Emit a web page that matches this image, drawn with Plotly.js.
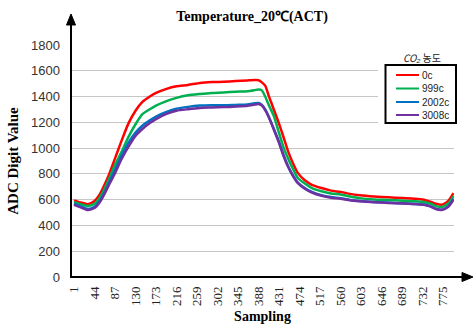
<!DOCTYPE html>
<html>
<head>
<meta charset="utf-8">
<script src="https://cdn.plot.ly/plotly-3.0.1.min.js"></script>
<style>html,body{margin:0;padding:0;background:#fff;}#chart{width:473px;height:333px;}</style>
</head>
<body>
<div id="chart"></div>
<script>
// ---- data ----
var samples = [1, 15, 30, 44, 55, 65, 75, 87, 100, 115, 130, 145, 160, 173, 195, 216, 240, 265, 290, 315, 340, 365, 380, 388, 395, 402, 410, 420, 430, 440, 450, 460, 470, 485, 500, 520, 540, 560, 580, 600, 630, 660, 690, 715, 735, 748, 760, 772, 786, 797];
var red0c = [595, 578, 565, 590, 640, 715, 800, 920, 1050, 1190, 1290, 1360, 1400, 1428, 1460, 1480, 1490, 1505, 1512, 1515, 1520, 1525, 1528, 1527, 1510, 1485, 1400, 1300, 1200, 1090, 975, 885, 810, 750, 715, 690, 670, 660, 645, 635, 625, 618, 612, 608, 600, 585, 568, 560, 590, 650];
var green999c = [580, 565, 550, 568, 615, 685, 765, 870, 965, 1085, 1185, 1265, 1302, 1330, 1365, 1390, 1410, 1420, 1428, 1432, 1438, 1442, 1450, 1455, 1448, 1400, 1330, 1250, 1130, 1010, 920, 840, 770, 725, 690, 665, 648, 640, 625, 612, 602, 598, 592, 588, 582, 570, 550, 542, 570, 628];
var blue2002c = [570, 548, 528, 545, 590, 655, 735, 830, 935, 1040, 1120, 1175, 1215, 1245, 1280, 1305, 1320, 1330, 1333, 1332, 1335, 1338, 1348, 1350, 1335, 1300, 1240, 1150, 1060, 950, 860, 790, 735, 690, 660, 635, 620, 612, 598, 590, 582, 578, 572, 568, 562, 550, 530, 522, 548, 605];
var purple3008c = [560, 540, 520, 535, 580, 645, 720, 805, 910, 1010, 1095, 1150, 1195, 1225, 1265, 1290, 1302, 1312, 1315, 1318, 1322, 1328, 1338, 1342, 1330, 1295, 1235, 1145, 1050, 945, 855, 785, 730, 685, 655, 630, 615, 608, 595, 588, 580, 575, 570, 565, 560, 548, 528, 520, 545, 600];
var seriesNames = ['0c', '999c', '2002c', '3008c'];
var seriesColors = ['#ff0000', '#00b050', '#0070c0', '#7030a0'];
var xTicks = [1, 44, 87, 130, 173, 216, 259, 302, 345, 388, 431, 474, 517, 560, 603, 646, 689, 732, 775];
var yTicks = [0, 200, 400, 600, 800, 1000, 1200, 1400, 1600, 1800];

var seriesValues = [red0c, green999c, blue2002c, purple3008c];

// plot area in pixels
var L = 71, R = 454, T = 45, B = 277;
function px(x) { return (x - L) / (R - L); }
function py(y) { return (B - y) / (B - T); }

var traces = seriesValues.map(function (vals, i) {
  return {
    x: samples, y: vals, type: 'scatter', mode: 'lines', name: seriesNames[i],
    line: { color: seriesColors[i], width: 2.5, shape: 'spline', smoothing: 0.6 },
    hoverinfo: 'x+y+name'
  };
});

function pt(x, y) { return px(x) + ',' + py(y); }

var shapes = [
  // white area behind the legend
  { type: 'rect', xref: 'paper', yref: 'paper', x0: px(378), x1: px(459), y0: py(126), y1: py(48),
    fillcolor: '#ffffff', line: { width: 0 }, layer: 'above' },
  // legend border
  { type: 'rect', xref: 'paper', yref: 'paper', x0: px(385.5), x1: px(456), y0: py(123), y1: py(65),
    fillcolor: 'rgba(0,0,0,0)', line: { color: '#000000', width: 2 }, layer: 'above' },
  // axis lines
  { type: 'line', xref: 'paper', yref: 'paper', x0: px(71), x1: px(71), y0: py(278), y1: py(22),
    line: { color: '#000000', width: 2 }, layer: 'above' },
  { type: 'line', xref: 'paper', yref: 'paper', x0: px(70), x1: px(466), y0: py(277), y1: py(277),
    line: { color: '#000000', width: 2 }, layer: 'above' },
  // arrowheads
  { type: 'path', xref: 'paper', yref: 'paper', path: 'M' + pt(71, 14) + ' L' + pt(66.5, 25) + ' L' + pt(75.5, 25) + ' Z',
    fillcolor: '#000000', line: { color: '#000000', width: 1 }, layer: 'above' },
  { type: 'path', xref: 'paper', yref: 'paper', path: 'M' + pt(473, 277) + ' L' + pt(462, 272.5) + ' L' + pt(462, 281.5) + ' Z',
    fillcolor: '#000000', line: { color: '#000000', width: 1 }, layer: 'above' }
];
var annotations = [
  // legend title
  { xref: 'paper', yref: 'paper', x: px(421.5), y: py(57), text: '<i>CO₂</i> 농도', showarrow: false,
    font: { family: 'Noto Sans CJK KR, Liberation Sans, sans-serif', size: 10, color: '#222222' },
    xanchor: 'center', yanchor: 'middle' }
];
var itemY = [75, 88.5, 102, 115];
seriesNames.forEach(function (n, i) {
  shapes.push({ type: 'line', xref: 'paper', yref: 'paper', x0: px(396), x1: px(419), y0: py(itemY[i]), y1: py(itemY[i]),
    line: { color: seriesColors[i], width: 2 }, layer: 'above' });
  annotations.push({ xref: 'paper', yref: 'paper', x: px(419.5), y: py(itemY[i]), text: n, showarrow: false,
    xanchor: 'left', yanchor: 'middle', font: { family: 'Liberation Sans, Arial, sans-serif', size: 10, color: '#222222' } });
});

var layout = {
  width: 473, height: 333,
  margin: { l: L, r: 473 - R, t: T, b: 333 - B, pad: 0 },
  paper_bgcolor: '#ffffff', plot_bgcolor: '#ffffff',
  showlegend: false,
  title: { text: '<b>Temperature_20℃(ACT)</b>', x: 252 / 473, xanchor: 'center', y: 1 - 16 / 333, yanchor: 'middle',
    font: { family: 'Liberation Serif, Times New Roman, serif', size: 14, color: '#000000' } },
  xaxis: {
    range: [-5.3, 798], tickmode: 'array', tickvals: xTicks, ticktext: xTicks.map(String),
    tickangle: -90, showgrid: false, zeroline: false, showline: false, ticks: '',
    ticklabelstandoff: 6,
    tickfont: { family: 'Liberation Serif, Times New Roman, serif', size: 13, color: '#222222' },
    title: { text: '<b>Sampling</b>', standoff: 6, font: { family: 'Liberation Serif, Times New Roman, serif', size: 14, color: '#000000' } }
  },
  yaxis: {
    range: [0, 1800], tickmode: 'array', tickvals: yTicks, ticktext: yTicks.map(String),
    showgrid: true, gridcolor: '#c6c6c6', gridwidth: 1, zeroline: false, showline: false, ticks: '',
    ticklabelstandoff: 10,
    tickfont: { family: 'Liberation Sans, Arial, sans-serif', size: 13, color: '#333333' },
    title: { text: '<b>ADC Digit Value</b>', standoff: 8, font: { family: 'Liberation Serif, Times New Roman, serif', size: 15, color: '#000000' } }
  },
  shapes: shapes,
  annotations: annotations
};

Plotly.newPlot('chart', traces, layout, { displayModeBar: false, staticPlot: true });
</script>
</body>
</html>
